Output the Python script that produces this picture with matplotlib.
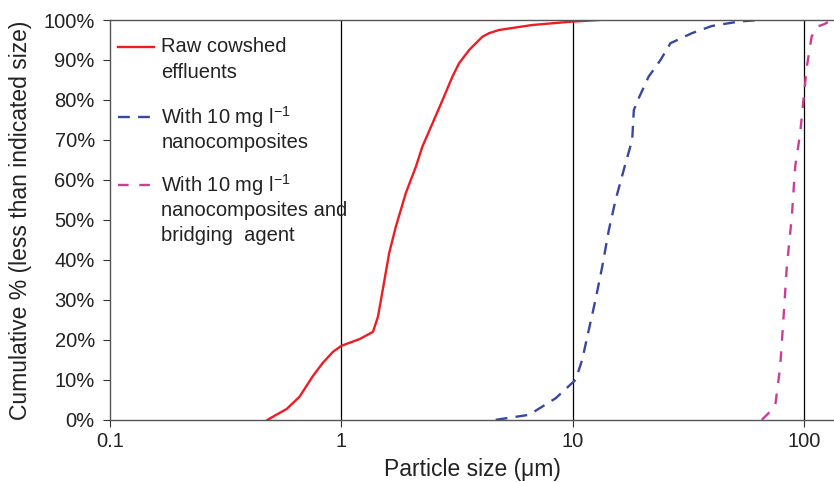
import matplotlib
matplotlib.use("Agg")
import matplotlib.pyplot as plt
from matplotlib.ticker import FixedLocator, FuncFormatter

plt.rcParams['font.family'] = ['Liberation Sans', 'DejaVu Sans']
plt.rcParams['mathtext.fontset'] = 'custom'
plt.rcParams['mathtext.rm'] = 'Liberation Sans'
plt.rcParams['mathtext.it'] = 'Liberation Sans:italic'

# Raw cowshed effluents
raw_size = [0.48, 0.523, 0.58, 0.66, 0.704, 0.75, 0.83, 0.92, 1.0, 1.2, 1.37,
            1.44, 1.51, 1.61, 1.72, 1.9, 2.10, 2.24, 2.48, 2.74, 3.02, 3.23,
            3.57, 4.07, 4.35, 4.81, 6.69, 9.96, 13.0]
raw_cum = [0, 1.25, 2.7, 5.8, 8.3, 10.8, 14.2, 17, 18.5, 20.2, 22,
           25.8, 32.5, 41.7, 48.3, 56.7, 63.3, 68.3, 74.2, 80, 85.8, 89.2,
           92.5, 95.8, 96.7, 97.5, 98.75, 99.6, 100]

# With 10 mg/l nanocomposites
nano_size = [4.65, 6.48, 8.45, 10.3, 11.0, 11.75, 12.56, 13.43, 14.35, 15.34,
             16.95, 18.1, 18.4, 19.3, 21.3, 24.0, 26.5, 32.8, 40.0, 52.2, 63.7]
nano_cum = [0, 1.25, 5.4, 10, 15, 22.5, 30, 38.3, 47.5, 55,
            64.2, 70, 77.5, 80.4, 85.8, 90, 94.2, 96.7, 98.5, 99.6, 100]

# With nanocomposites and bridging agent
bridge_size = [65.8, 75.1, 79.0, 81.7, 84.4, 88.7, 91.7, 96.4, 99.6, 103,
               108, 113.7, 123, 127]
bridge_cum = [0, 3.3, 13.3, 25.8, 38.3, 50.8, 63.3, 71.7, 80, 88.3,
              95.8, 98.3, 99, 99.5]

labels = [['Raw cowshed', 'effluents'],
          ['With 10 mg l$^{-1}$', 'nanocomposites'],
          ['With 10 mg l$^{-1}$', 'nanocomposites and', 'bridging  agent']]

x_ticks = [0.1, 1, 10, 100]
y_ticks = list(range(0, 101, 10))

fig = plt.figure(figsize=(8.34, 4.82), dpi=100)
ax = fig.add_axes([0.132, 0.129, 0.868, 0.8295])

styles = [dict(color='#ee1c24'),
          dict(color='#3a47a0', dashes=(5, 3.5)),
          dict(color='#cc3d9a', dashes=(4.5, 4.5))]

ax.plot(raw_size, raw_cum, lw=1.7, **styles[0])
ax.plot(nano_size, nano_cum, lw=1.7, **styles[1])
ax.plot(bridge_size, bridge_cum, lw=1.7, **styles[2])

ax.set_xscale('log')
ax.set_xlim(0.1, 135)
ax.set_ylim(0, 100)
ax.xaxis.set_major_locator(FixedLocator(x_ticks))
ax.xaxis.set_minor_locator(FixedLocator([]))
ax.xaxis.set_major_formatter(FuncFormatter(lambda v, p: '%g' % v))
ax.set_yticks(y_ticks)
ax.yaxis.set_major_formatter(FuncFormatter(lambda v, p: '%d%%' % v))
ax.tick_params(labelsize=14.5, length=5, width=0.8, colors='#333333',
               labelcolor='#222222')
ax.tick_params(axis='y', pad=6)

for v in x_ticks[1:]:
    ax.axvline(v, color='black', lw=0.9, zorder=0)

for s in ['left', 'bottom', 'top']:
    ax.spines[s].set_color('#555555')
    ax.spines[s].set_linewidth(1.0)
ax.spines['right'].set_visible(False)

ax.set_xlabel('Particle size (\u03bcm)', fontsize=16.5, color='#222222',
              labelpad=5)
ax.set_ylabel('Cumulative % (less than indicated size)', fontsize=16.5,
              color='#222222', labelpad=8)

# legend drawn by hand so the key sits on the first line of each label
entry_top = [0.9325, 0.7575, 0.5875]
line_step = 0.0635
for lab, st, y0 in zip(labels, styles, entry_top):
    ax.plot([0.011, 0.060], [y0, y0], transform=ax.transAxes, lw=1.7,
            clip_on=False, **st)
    for i, line in enumerate(lab):
        ax.text(0.071, y0 - i * line_step, line, transform=ax.transAxes,
                fontsize=14.5, color='#222222', va='center', ha='left')

fig.savefig('out.png', dpi=100)
